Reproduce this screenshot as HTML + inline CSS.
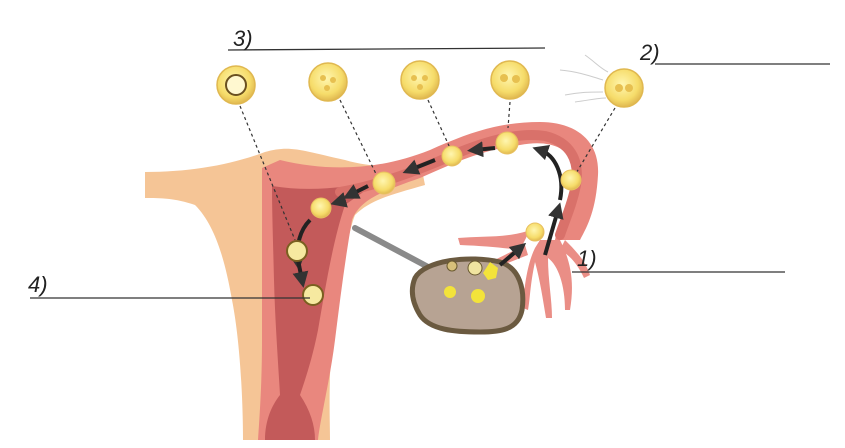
<!DOCTYPE html>
<html><head><meta charset="utf-8"><style>
html,body{margin:0;padding:0;background:#fff;}
svg{display:block;}
text{font-family:"Liberation Sans",sans-serif;}
</style></head><body>
<svg width="845" height="448" viewBox="0 0 845 448" xmlns="http://www.w3.org/2000/svg">
<defs>
<radialGradient id="cell" cx="45%" cy="40%" r="60%"><stop offset="0" stop-color="#fff6b0"/><stop offset="0.7" stop-color="#f6dc6a"/><stop offset="1" stop-color="#e0b850"/></radialGradient>
<marker id="ah" markerWidth="4" markerHeight="4" refX="2" refY="2" orient="auto"><path d="M0,0 L4,2 L0,4z" fill="#333"/></marker>
</defs>
<!-- peach outer body & left tube -->
<path d="M145,172 C190,172 230,165 265,152 C290,145 300,150 345,160 C380,170 400,165 420,160 L425,185 C390,195 370,200 355,215 C345,240 340,300 333,330 C328,380 330,420 330,440 L243,440 C243,400 240,340 232,300 C225,260 215,225 195,205 C175,198 160,198 145,198 Z" fill="#f5c596"/>
<!-- pink wall -->
<path d="M262,168 L280,160 C330,172 380,170 430,150 C470,132 500,122 540,122 C575,122 600,140 598,175 C596,210 588,225 580,240 L555,240 C560,215 575,190 572,165 C568,145 545,140 520,145 C480,150 450,165 420,178 C380,192 360,200 352,220 C345,260 340,300 335,340 C330,380 320,420 318,440 L258,440 C260,410 262,380 262,340 C262,280 262,220 262,168 Z" fill="#e9877e"/>
<!-- dark cavity -->
<path d="M272,186 C310,192 345,188 380,180 L345,205 C333,240 325,290 318,330 C312,360 305,380 300,395 C310,410 315,425 315,440 L265,440 C265,420 272,405 280,395 C278,360 275,320 274,280 C273,240 272,210 272,186 Z" fill="#c35a5a"/>
<!-- tube lumen -->
<path d="M340,192 C380,185 420,170 460,152 C490,140 520,132 545,136 C570,142 580,160 576,185 C572,205 565,220 560,235" fill="none" stroke="#d9716a" stroke-width="10" stroke-linecap="round"/>
<!-- fimbriae -->
<g fill="#ea8e86">
<path d="M530,230 C510,238 480,236 458,238 L460,245 C485,246 505,248 520,250 Z"/>
<path d="M525,245 C505,255 490,262 475,270 L478,276 C495,268 510,262 528,255 Z"/>
<path d="M540,240 L560,240 C570,260 575,280 570,310 L565,310 C565,285 558,265 548,258 C548,280 552,300 552,318 L546,318 C543,300 540,280 535,262 C530,285 530,300 528,310 L523,308 C524,285 528,262 535,248 Z"/>
<path d="M565,240 C575,250 585,260 590,275 L584,278 C578,265 570,255 560,250 Z"/>
</g>
<!-- ligament -->
<path d="M355,228 L430,268" stroke="#8a8a8a" stroke-width="6" stroke-linecap="round"/>
<!-- ovary -->
<path d="M415,278 C425,260 470,255 500,262 C520,268 525,290 522,310 C518,330 500,332 480,332 C455,332 430,330 420,315 C412,302 410,290 415,278 Z" fill="#b7a393" stroke="#6b5a40" stroke-width="5"/>
<circle cx="452" cy="266" r="5" fill="#d7c07a" stroke="#6a5a30"/>
<circle cx="475" cy="268" r="7" fill="#f0e4a0" stroke="#6a5a30"/>
<path d="M490,262 l8,6 l-2,10 l-8,2 l-5,-7z" fill="#f3e33a"/>
<circle cx="450" cy="292" r="6" fill="#f3e33a"/>
<circle cx="478" cy="296" r="7" fill="#f3e33a"/>
<!-- dashed lines -->
<g stroke="#333" stroke-width="1.2" stroke-dasharray="3,3" fill="none">
<path d="M240,106 L295,240"/><path d="M340,100 L378,178"/><path d="M428,100 L450,148"/><path d="M510,102 L508,128"/><path d="M615,108 L575,175"/>
</g>
<!-- arrows -->
<g stroke="#222" stroke-width="4" fill="none" marker-end="url(#ah)">
<path d="M545,255 L558,210"/><path d="M560,200 C565,175 555,155 540,150"/><path d="M495,148 L475,150"/><path d="M435,160 L410,170"/><path d="M368,186 L350,195"/><path d="M345,200 L338,202"/><path d="M310,220 C300,230 296,245 298,262"/><path d="M298,260 L302,280"/><path d="M500,265 L520,248"/>
</g>
<!-- cells in tube -->
<g fill="url(#cell)" stroke="#e8c060" stroke-width="1">
<circle cx="571" cy="180" r="10"/><circle cx="507" cy="143" r="11"/><circle cx="452" cy="156" r="10"/><circle cx="384" cy="183" r="11"/><circle cx="321" cy="208" r="10"/><circle cx="535" cy="232" r="9"/>
</g>
<circle cx="297" cy="251" r="10" fill="#f6e9a0" stroke="#7a6020" stroke-width="2"/>
<circle cx="313" cy="295" r="10" fill="#f6e9a0" stroke="#7a6020" stroke-width="2"/>
<!-- top cells -->
<g fill="url(#cell)" stroke="#e0b850" stroke-width="1.5">
<circle cx="236" cy="85" r="19"/><circle cx="328" cy="82" r="19"/><circle cx="420" cy="80" r="19"/><circle cx="510" cy="80" r="19"/><circle cx="624" cy="88" r="19"/>
</g>
<circle cx="236" cy="85" r="10" fill="#fff8d0" stroke="#6a5020" stroke-width="2"/>
<g fill="#e7c050"><circle cx="323" cy="78" r="3"/><circle cx="333" cy="80" r="3"/><circle cx="327" cy="88" r="3"/><circle cx="414" cy="78" r="3"/><circle cx="425" cy="78" r="3"/><circle cx="420" cy="87" r="3"/><circle cx="504" cy="78" r="4"/><circle cx="516" cy="79" r="4"/><circle cx="619" cy="88" r="4"/><circle cx="629" cy="88" r="4"/></g>
<g stroke="#ccc" stroke-width="1" fill="none"><path d="M560,70 C580,72 590,76 603,80"/><path d="M565,95 C580,92 590,92 603,92"/><path d="M585,55 C595,62 600,68 608,72"/><path d="M575,102 C590,100 598,98 606,98"/></g>
<!-- labels -->
<g stroke="#333" stroke-width="1.3"><path d="M228,50 L545,48"/><path d="M655,64 L830,64"/><path d="M572,272 L785,272"/><path d="M30,298 L310,298"/></g>
<text x="233" y="46" font-size="22" font-style="italic" fill="#222">3)</text>
<text x="640" y="60" font-size="22" font-style="italic" fill="#222">2)</text>
<text x="577" y="266" font-size="22" font-style="italic" fill="#222">1)</text>
<text x="28" y="292" font-size="22" font-style="italic" fill="#222">4)</text>
</svg>
</body></html>
